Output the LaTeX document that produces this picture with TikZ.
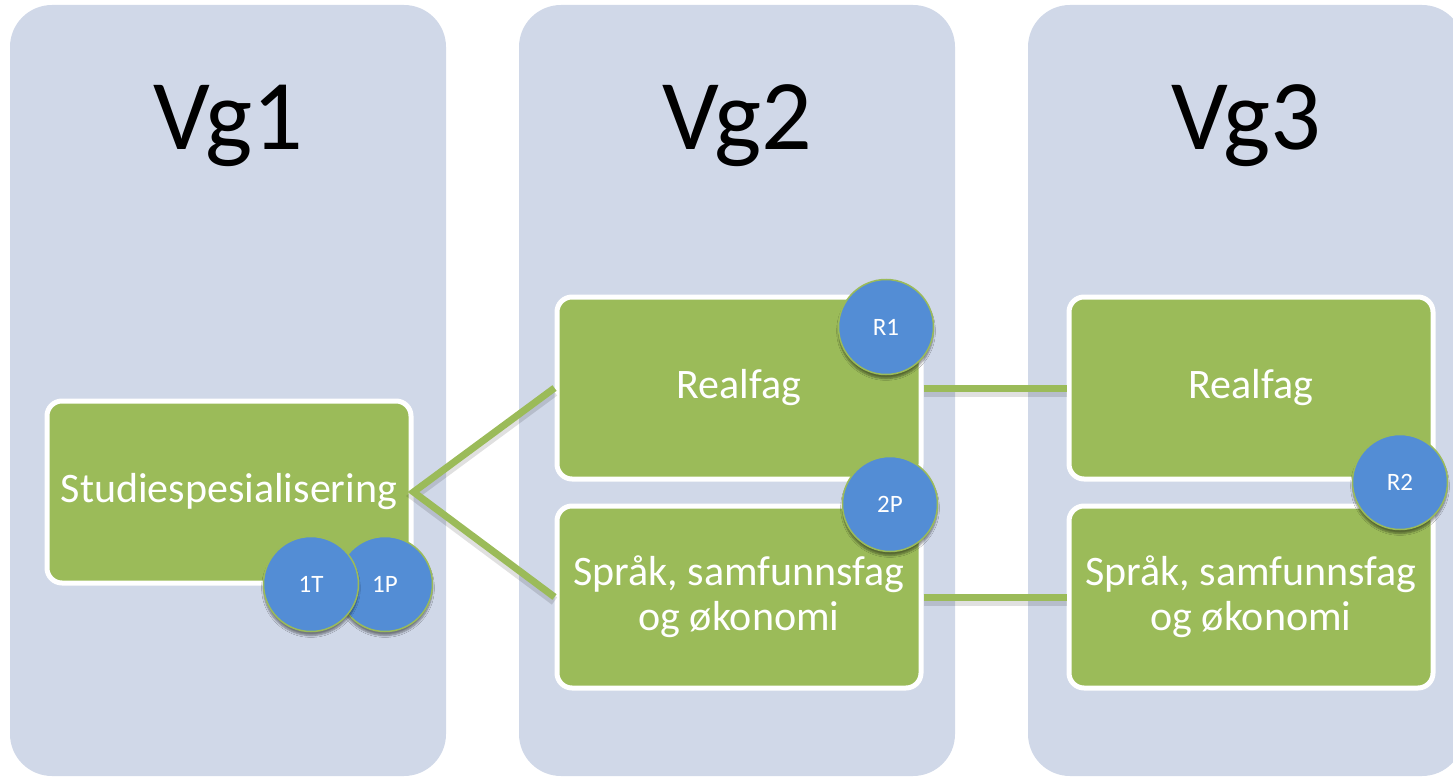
\documentclass[tikz,border=0pt]{standalone}
\usepackage{fontspec}
\setmainfont{Carlito}
\usetikzlibrary{shadows.blur}
\definecolor{colbg}{HTML}{D0D8E8}
\definecolor{boxgreen}{HTML}{9BBB59}
\definecolor{circblue}{HTML}{538DD5}
\begin{document}
\begin{tikzpicture}[x=1pt,y=-1pt,
  column/.style={fill=colbg, draw=none, rounded corners=42pt, minimum width=436pt, minimum height=771pt, inner sep=0pt},
  heading/.style={font=\fontsize{100}{110}\selectfont, text=black, anchor=base, inner sep=0pt},
  fagbox/.style={fill=boxgreen, draw=white, line width=5pt, rounded corners=15pt, minimum width=364pt, minimum height=182pt, text=white, font=\fontsize{42}{45}\selectfont, align=center, inner sep=0pt},
  badge/.style={circle, fill=circblue, draw=boxgreen, line width=1.5pt, minimum size=95pt, inner sep=0pt, text=white, font=\fontsize{25}{27}\selectfont, blur shadow={shadow xshift=0pt, shadow yshift=-4pt, shadow blur steps=6, shadow opacity=45}},
  conn/.style={draw=boxgreen, line width=7pt, line join=miter},
  connshadow/.style={draw=black, opacity=0.12, line width=9pt, transform canvas={yshift=-4pt}}
]
\useasboundingbox (0,0) rectangle (1453,778);
% columns
\node[column] (col1) at (228,390.5) {};
\node[column] (col2) at (737,390.5) {};
\node[column] (col3) at (1246,390.5) {};
% headings
\node[heading] (vg1) at (228,150) {Vg1};
\node[heading] (vg2) at (737,150) {Vg2};
\node[heading] (vg3) at (1246,150) {Vg3};
% boxes
\node[fagbox] (studi) at (229,492) {Studiespesialisering};
\node[fagbox] (r2) at (739,388) {Realfag};
\node[fagbox] (s2) at (739,597) {Språk, samfunnsfag\\og økonomi};
\node[fagbox] (r3) at (1251,388) {Realfag};
\node[fagbox] (s3) at (1251,597) {Språk, samfunnsfag\\og økonomi};
% connector shadows
\draw[connshadow] (r2.west) -- (studi.east) -- (s2.west);
\draw[connshadow] (r2.east) -- (r3.west);
\draw[connshadow] (s2.east) -- (s3.west);
% connectors
\draw[conn] (r2.west) -- (studi.east) -- (s2.west);
\draw[conn] (r2.east) -- (r3.west);
\draw[conn] (s2.east) -- (s3.west);
% badges
\node[badge] (p1) at (385,584) {1P};
\node[badge] (t1) at (311,584) {1T};
\node[badge] (rr1) at (886,327) {R1};
\node[badge] (pp2) at (890,504) {2P};
\node[badge] (rr2) at (1400,482) {R2};
\end{tikzpicture}
\end{document}
